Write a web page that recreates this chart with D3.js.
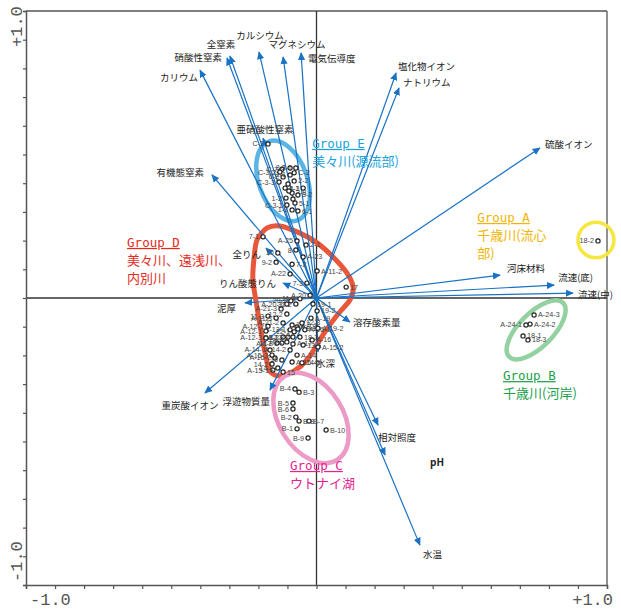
<!DOCTYPE html>
<html>
<head>
<meta charset="utf-8">
<script src="https://cdn.jsdelivr.net/npm/d3@7"></script>
<style>
  body { margin: 0; background: #fff; }
  svg { display: block; }
</style>
</head>
<body>
<svg id="chart" width="621" height="611"></svg>
<script>
// Environmental variables (loading vectors)
const variableNames = ["カリウム","硝酸性窒素","全窒素","カルシウム","マグネシウム","電気伝導度","塩化物イオン","ナトリウム","硫酸イオン","亜硝酸性窒素","有機態窒素","全りん","りん酸態りん","泥厚","河床材料","流速(底)","流速(中)","溶存酸素量","水深","重炭酸イオン","浮遊物質量","相対照度","pH","水温"];
const loadingX = [-0.401,-0.308,-0.298,-0.198,-0.115,-0.053,0.274,0.284,0.769,-0.184,-0.360,-0.174,-0.115,-0.246,0.632,0.818,0.883,0.115,0.005,-0.384,-0.160,0.212,0.236,0.356];
const loadingY = [0.794,0.836,0.843,0.857,0.840,0.854,0.784,0.732,0.523,0.557,0.429,0.174,0.052,-0.017,0.080,0.045,0.017,-0.084,-0.188,-0.331,-0.321,-0.443,-0.547,-0.861];

// Sampling sites (scores)
const siteNames = [
  // Group D
  "7-1","A-25","2-1","8","10","A-23","9-2","7-2","A-22","A-11-2","7-3","17","A-20","11-1","20-2","31-2","A-20-3","19-1","A-21-3","11-3",
  "19-2","12-2","A-11-3","A-19","A-21-2","A-12-2","18-2","A-18","12-3","A-13-1","12-1","18-1","A-16-1","A-19-2","A-12-1","13-2","A-17-3","A-17-2","18-3","A-12-3",
  "11-2","A-17-1","16-2","A-17","13-1","A-16","A-15-2","A-14-2","A-14","A-16-2","16","A-15-4","A-15-1","14-1","14-3","15","A-14-1","A-15-3","14-2",
  // Group E
  "C-1","C-7","8-1","9-1","C-2","6-2","2-1","2-2","C-3-3","2-1","4-3","3-8","3-2","1-2","C-3-1","5-1","1-3","6-1","","","","C-3-2",
  // Group B
  "A-24-3","A-24-2","A-24-1","18-1","18-3",
  // Group A
  "18-2",
  // Group C
  "B-4","B-3","B-5","B-6","B-2","B-8","B-7","B-1","B-9","B-10"
];
const scoreX = [
  -0.184,-0.067,-0.036,-0.071,-0.133,-0.046,-0.139,-0.084,-0.091,0.002,-0.033,0.102,-0.022,-0.057,-0.088,-0.071,-0.102,-0.012,-0.122,-0.167,
  0.002,-0.102,-0.139,-0.019,-0.115,-0.167,-0.084,-0.067,-0.050,-0.091,-0.077,-0.064,-0.040,0.005,-0.174,-0.115,-0.098,-0.081,-0.057,-0.174,
  -0.136,-0.119,-0.102,-0.081,-0.046,-0.015,0.005,-0.091,-0.067,-0.143,-0.119,-0.084,-0.150,-0.133,-0.050,-0.115,-0.160,-0.153,-0.153,
  -0.167,-0.119,-0.091,-0.071,-0.077,-0.115,-0.091,-0.077,-0.129,-0.046,-0.108,-0.084,-0.064,-0.105,-0.102,-0.074,-0.084,-0.064,-0.098,-0.095,-0.081,-0.126,
  0.749,0.735,0.721,0.711,0.728,
  0.969,
  -0.074,-0.060,-0.081,-0.081,-0.071,-0.060,-0.026,-0.067,-0.029,0.033
];
const scoreY = [
  0.213,0.199,0.185,0.167,0.157,0.143,0.125,0.118,0.084,0.094,0.052,0.038,0.010,-0.003,-0.010,-0.021,-0.021,-0.021,-0.038,-0.063,
  -0.045,-0.056,-0.070,-0.070,-0.087,-0.098,-0.094,-0.101,-0.087,-0.111,-0.118,-0.108,-0.111,-0.105,-0.115,-0.136,-0.136,-0.136,-0.136,-0.139,
  -0.157,-0.157,-0.153,-0.160,-0.164,-0.146,-0.171,-0.181,-0.199,-0.209,-0.216,-0.223,-0.251,-0.244,-0.226,-0.258,-0.181,-0.199,-0.230,
  0.537,0.449,0.453,0.453,0.436,0.422,0.429,0.408,0.404,0.383,0.383,0.366,0.359,0.348,0.324,0.331,0.307,0.303,0.397,0.373,0.345,0.439,
  -0.059,-0.091,-0.094,-0.132,-0.146,
  0.199,
  -0.317,-0.328,-0.366,-0.387,-0.415,-0.429,-0.429,-0.456,-0.488,-0.460
];
// Sites whose name sits to the right of the marker
const rightLabelled = new Set([2,5,7,9,11,17,20,23,26,27,28,31,32,33,38,43,44,45,46,48,51,54,55,
  63,66,69,70,71,74,76, 81,82,84,85, 88,92,93,96]);

// Cluster outlines
const groupDOutlineX = [-0.205,-0.170,-0.126,-0.057,0.002,0.057,0.105,0.126,0.115,0.074,0.029,-0.030,-0.078,-0.126,-0.160,-0.176,-0.190,-0.205,-0.219,-0.215];
const groupDOutlineY = [0.202,0.244,0.251,0.226,0.192,0.143,0.087,0.038,-0.007,-0.056,-0.118,-0.212,-0.255,-0.272,-0.256,-0.195,-0.122,-0.031,0.063,0.139];
const ellipseGroups = ["E","C","B","A"];
const ellipseCX = [-0.115,-0.019,0.756,0.962];
const ellipseCY = [0.408,-0.418,-0.111,0.202];
const ellipseRX = [0.083,0.110,0.131,0.062];
const ellipseRY = [0.146,0.172,0.059,0.062];
const ellipseAngle = [-20,-32,-45,0];

// Group captions
const groupNames = ["E","D","A","B","C"];
const groupLines = [
  ["Group E","美々川(源流部)"],
  ["Group D","美々川、遠浅川、","内別川"],
  ["Group A","千歳川(流心","部)"],
  ["Group B","千歳川(河岸)"],
  ["Group C","ウトナイ湖"]
];
const groupTextX = [-0.015,-0.652,0.553,0.642,-0.091];
const groupTextY = [0.523,0.178,0.265,-0.286,-0.599];

const axisTicks = d3.range(-10, 11).map(d => d / 10);
const axisEndLabels = ["-1.0","+1.0"];

// ---------- drawing ----------
const colors = {
  arrow: "#1a72c4",
  E: "#5ab4e4", D: "#e8573a", C: "#ec9ac6", B: "#93d2a0", A: "#f6e641",
  textE: "#1aa3de", textD: "#e52a1c", textA: "#f2b400", textB: "#21a04a", textC: "#e2238b"
};
const labelLayout = [
  ["end",-2,11],["end",-5,3],["middle",-9,-8],["middle",1,-13],["middle",14,-9],["start",7,9],
  ["start",2,-3],["start",4,-2],["start",5,0],["middle",2,-5],["end",-8,1],["end",-5,10],
  ["end",-7,4],["end",-9,9],["start",7,-3],["start",4,-4],["start",5,5],["start",3,4],
  ["start",-2,15],["middle",-15,16],["end",0,15],["start",0,16],["start",45,11],["start",3,13]
];

const svg = d3.select("#chart");
const x = d3.scaleLinear().domain([-1, 1]).range([26, 607]);
const y = d3.scaleLinear().domain([-1, 1]).range([585, 11]);
const axisColor = "#555";

// frame
const frame = svg.append("g");
frame.append("line").attr("x1", x(-1)).attr("x2", x(1)).attr("y1", y(1)).attr("y2", y(1))
  .attr("stroke", axisColor).attr("stroke-width", 1.3);
frame.append("line").attr("x1", x(1)).attr("x2", x(1)).attr("y1", y(1)).attr("y2", y(-1))
  .attr("stroke", axisColor).attr("stroke-width", 1.3);
frame.append("line").attr("x1", x(0)).attr("x2", x(0)).attr("y1", y(1)).attr("y2", y(-1))
  .attr("stroke", "#333").attr("stroke-width", 1.3);
frame.append("line").attr("x1", x(-1)).attr("x2", x(1)).attr("y1", y(0)).attr("y2", y(0))
  .attr("stroke", "#333").attr("stroke-width", 1.3);

const xAxis = d3.axisBottom(x).tickValues(axisTicks).tickSize(4).tickFormat("");
const gx = svg.append("g").attr("transform", `translate(0,${y(-1)})`).call(xAxis);
const yAxis = d3.axisLeft(y).tickValues(axisTicks).tickSize(3).tickFormat("");
const gy = svg.append("g").attr("transform", `translate(${x(-1)},0)`).call(yAxis);
[gx, gy].forEach(g => {
  g.select(".domain").attr("stroke", axisColor).attr("stroke-width", 1.5);
  g.selectAll(".tick line").attr("stroke", axisColor).attr("stroke-width", 1.2);
});

const endFont = { family: "'Liberation Mono', 'DejaVu Sans Mono', monospace", size: 17 };
svg.append("text").attr("x", x(-1) + 4).attr("y", 605).text(axisEndLabels[0])
  .attr("font-family", endFont.family).attr("font-size", endFont.size).attr("fill", axisColor);
svg.append("text").attr("x", x(1) + 6).attr("y", 605).attr("text-anchor", "end").text(axisEndLabels[1])
  .attr("font-family", endFont.family).attr("font-size", endFont.size).attr("fill", axisColor);
svg.append("text").attr("transform", `translate(22,${y(1) + 36}) rotate(-90)`).text(axisEndLabels[1])
  .attr("font-family", endFont.family).attr("font-size", endFont.size).attr("fill", axisColor);
svg.append("text").attr("transform", `translate(22,${y(-1) - 3}) rotate(-90)`).text(axisEndLabels[0])
  .attr("font-family", endFont.family).attr("font-size", endFont.size).attr("fill", axisColor);

// cluster outlines
const outline = d3.line().curve(d3.curveCardinalClosed.tension(0.2)).x(i => x(groupDOutlineX[i])).y(i => y(groupDOutlineY[i]));
svg.append("path").attr("d", outline(d3.range(groupDOutlineX.length)))
  .attr("fill", "none").attr("stroke", colors.D).attr("stroke-width", 5);

ellipseGroups.forEach((g, i) => {
  const cx = x(ellipseCX[i]), cy = y(ellipseCY[i]);
  svg.append("ellipse")
    .attr("cx", cx).attr("cy", cy)
    .attr("rx", x(ellipseRX[i]) - x(0)).attr("ry", y(0) - y(ellipseRY[i]))
    .attr("transform", `rotate(${ellipseAngle[i]},${cx},${cy})`)
    .attr("fill", "none").attr("stroke", colors[g]).attr("stroke-width", g === "A" ? 3.5 : 4.5);
});

// loading vectors
svg.append("defs").append("marker")
  .attr("id", "head").attr("viewBox", "0 0 10 10").attr("refX", 9).attr("refY", 5)
  .attr("markerWidth", 8).attr("markerHeight", 8).attr("markerUnits", "userSpaceOnUse")
  .attr("orient", "auto")
  .append("path").attr("d", "M0,0.5 L10,5 L0,9.5 Z").attr("fill", colors.arrow);

const vectors = svg.append("g");
variableNames.forEach((name, i) => {
  const tx = x(loadingX[i]), ty = y(loadingY[i]);
  vectors.append("line").attr("x1", x(0)).attr("y1", y(0)).attr("x2", tx).attr("y2", ty)
    .attr("stroke", colors.arrow).attr("stroke-width", 1.2).attr("marker-end", "url(#head)");
  const [anchor, dx, dy] = labelLayout[i];
  vectors.append("text").attr("x", tx + dx).attr("y", ty + dy).attr("text-anchor", anchor)
    .attr("font-family", "'Noto Sans CJK JP', 'Noto Sans', sans-serif")
    .attr("font-size", name === "pH" ? 10 : 9.5)
    .attr("font-weight", name === "pH" ? "bold" : "normal")
    .attr("fill", "#222").text(name);
});

// sites
const sites = svg.append("g");
siteNames.forEach((name, i) => {
  const px = x(scoreX[i]), py = y(scoreY[i]);
  sites.append("circle").attr("cx", px).attr("cy", py).attr("r", 2.1)
    .attr("fill", "#fff").attr("stroke", "#222").attr("stroke-width", 1.2);
  if (name) {
    const right = rightLabelled.has(i);
    sites.append("text").attr("x", px + (right ? 4 : -4)).attr("y", py + 2.5)
      .attr("text-anchor", right ? "start" : "end")
      .attr("font-family", "'Liberation Sans', Arial, sans-serif").attr("font-size", 7.2)
      .attr("fill", "#444").text(name);
  }
});

// group captions
groupNames.forEach((g, i) => {
  const t = svg.append("text").attr("x", x(groupTextX[i])).attr("y", y(groupTextY[i]))
    .attr("fill", colors["text" + g]);
  groupLines[i].forEach((line, j) => {
    const ts = t.append("tspan").attr("x", x(groupTextX[i])).attr("dy", j === 0 ? 0 : 18).text(line);
    if (j === 0) {
      ts.attr("font-family", "'DejaVu Sans Mono', monospace").attr("font-size", 12.5)
        .attr("text-decoration", "underline");
    } else {
      ts.attr("font-family", "'Noto Sans CJK JP', sans-serif").attr("font-size", 13);
    }
  });
});
</script>
</body>
</html>
